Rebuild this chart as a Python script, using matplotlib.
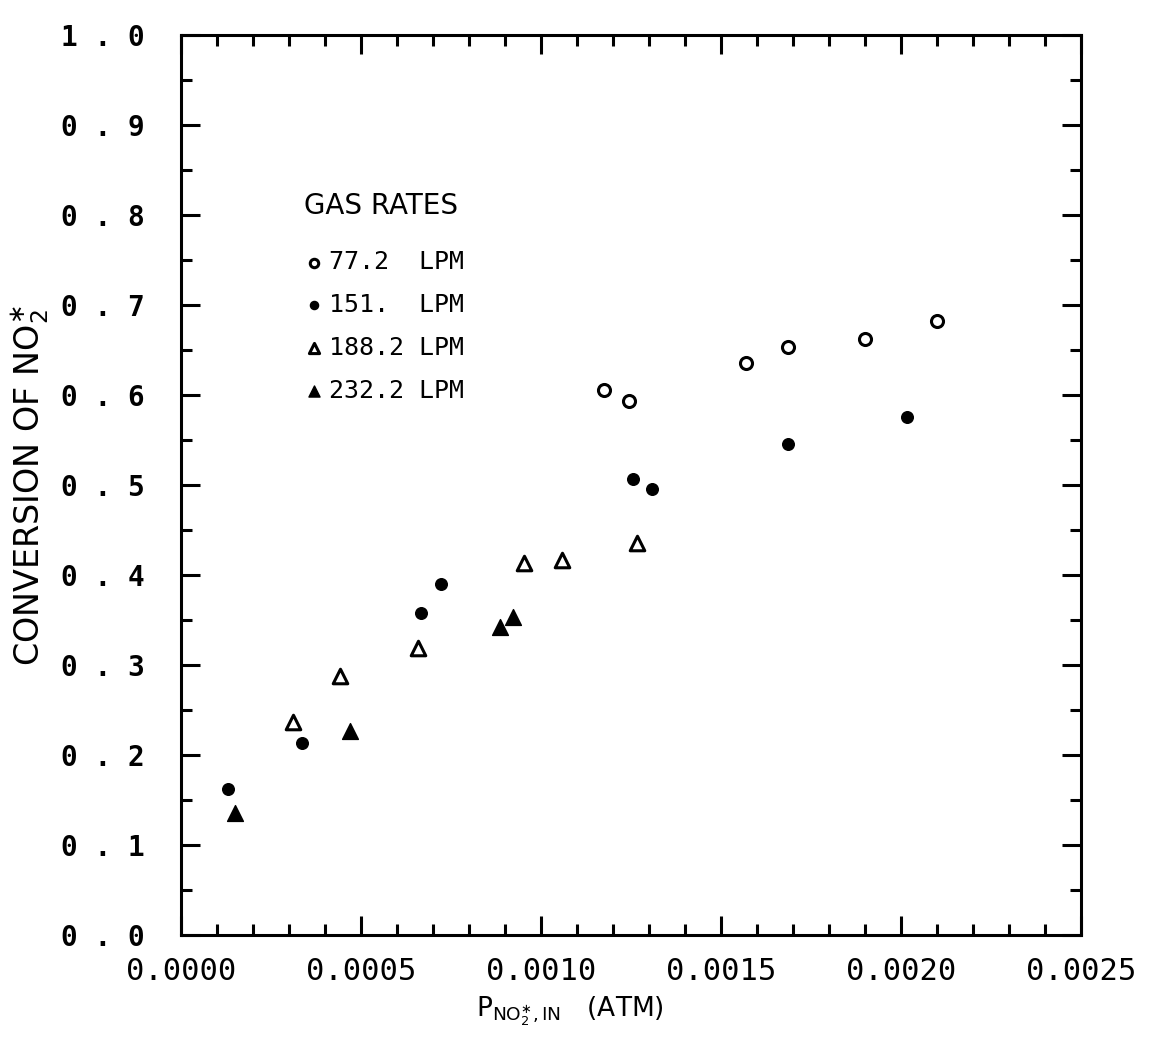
import matplotlib
matplotlib.use("Agg")
import matplotlib.pyplot as plt
from matplotlib.ticker import MultipleLocator, FormatStrFormatter, FuncFormatter

# inlet NO2* partial pressure (atm) and fractional conversion, per gas rate
p_772 = [0.001175, 0.001244, 0.001569, 0.001686, 0.001900, 0.002100]
x_772 = [0.606, 0.593, 0.636, 0.653, 0.662, 0.682]

p_151 = [0.000131, 0.000336, 0.000667, 0.000722, 0.001256, 0.001308, 0.001686, 0.002017]
x_151 = [0.162, 0.214, 0.358, 0.390, 0.507, 0.496, 0.546, 0.576]

p_1882 = [0.000311, 0.000442, 0.000658, 0.000953, 0.001058, 0.001267]
x_1882 = [0.237, 0.288, 0.319, 0.414, 0.417, 0.436]

p_2322 = [0.000150, 0.000469, 0.000886, 0.000922]
x_2322 = [0.136, 0.227, 0.342, 0.354]

rate_labels = ["77.2  LPM", "151.  LPM", "188.2 LPM", "232.2 LPM"]

MONO = "DejaVu Sans Mono"
BLACK = "black"

fig = plt.figure(figsize=(11.61, 10.45), dpi=100, facecolor="white")
ax = fig.add_axes([0.156, 0.105, 0.775, 0.8615])

h1 = ax.scatter(p_772, x_772, s=75, facecolors="white", edgecolors=BLACK,
                linewidths=2.2, marker="o", label=rate_labels[0], zorder=3)
h2 = ax.scatter(p_151, x_151, s=70, color=BLACK, marker="o",
                label=rate_labels[1], zorder=3)
h3 = ax.scatter(p_1882, x_1882, s=110, facecolors="white", edgecolors=BLACK,
                linewidths=2.2, marker="^", label=rate_labels[2], zorder=3)
h4 = ax.scatter(p_2322, x_2322, s=130, color=BLACK, marker="^",
                label=rate_labels[3], zorder=3)

ax.set_xlim(0.0, 0.0025)
ax.set_ylim(0.0, 1.0)

ax.xaxis.set_major_locator(MultipleLocator(0.0005))
ax.xaxis.set_minor_locator(MultipleLocator(0.0001))
ax.yaxis.set_major_locator(MultipleLocator(0.1))
ax.yaxis.set_minor_locator(MultipleLocator(0.05))
ax.xaxis.set_major_formatter(FormatStrFormatter("%.4f"))
# spaced-out plotter style labels on the conversion axis
ax.yaxis.set_major_formatter(FuncFormatter(lambda v, _: f"{v:.1f}".replace(".", " . ")))

ax.tick_params(which="both", direction="in", top=True, right=True,
               width=2.2, colors=BLACK)
ax.tick_params(which="major", length=14)
ax.tick_params(which="minor", length=8)
ax.tick_params(axis="x", which="major", pad=16)
ax.tick_params(axis="y", which="major", pad=26)
for lab in ax.get_xticklabels():
    lab.set_fontfamily(MONO)
    lab.set_fontsize(22)
for lab in ax.get_yticklabels():
    lab.set_fontfamily(MONO)
    lab.set_fontsize(20)
    lab.set_fontweight("bold")
for spine in ax.spines.values():
    spine.set_linewidth(2.2)

ax.set_ylabel(r"CONVERSION OF NO$_2^{\ast}$", fontsize=24)
ax.yaxis.set_label_coords(-0.145, 0.5)
ax.set_xlabel(r"P$_{\mathregular{NO}_2^{\ast},\mathregular{IN}}$   (ATM)",
              fontsize=19)
ax.xaxis.set_label_coords(0.432, -0.065)

leg = ax.legend(handles=[h1, h2, h3, h4], title="GAS RATES", loc="upper left",
                bbox_to_anchor=(0.125, 0.837), frameon=False,
                prop={"family": MONO, "size": 18},
                title_fontproperties={"family": "DejaVu Sans", "size": 20},
                alignment="left", handletextpad=0.2, handlelength=0.8,
                labelspacing=0.75, markerscale=0.7, borderaxespad=0)
leg._legend_box.sep = 22

fig.savefig("out.png", dpi=100, facecolor="white")
